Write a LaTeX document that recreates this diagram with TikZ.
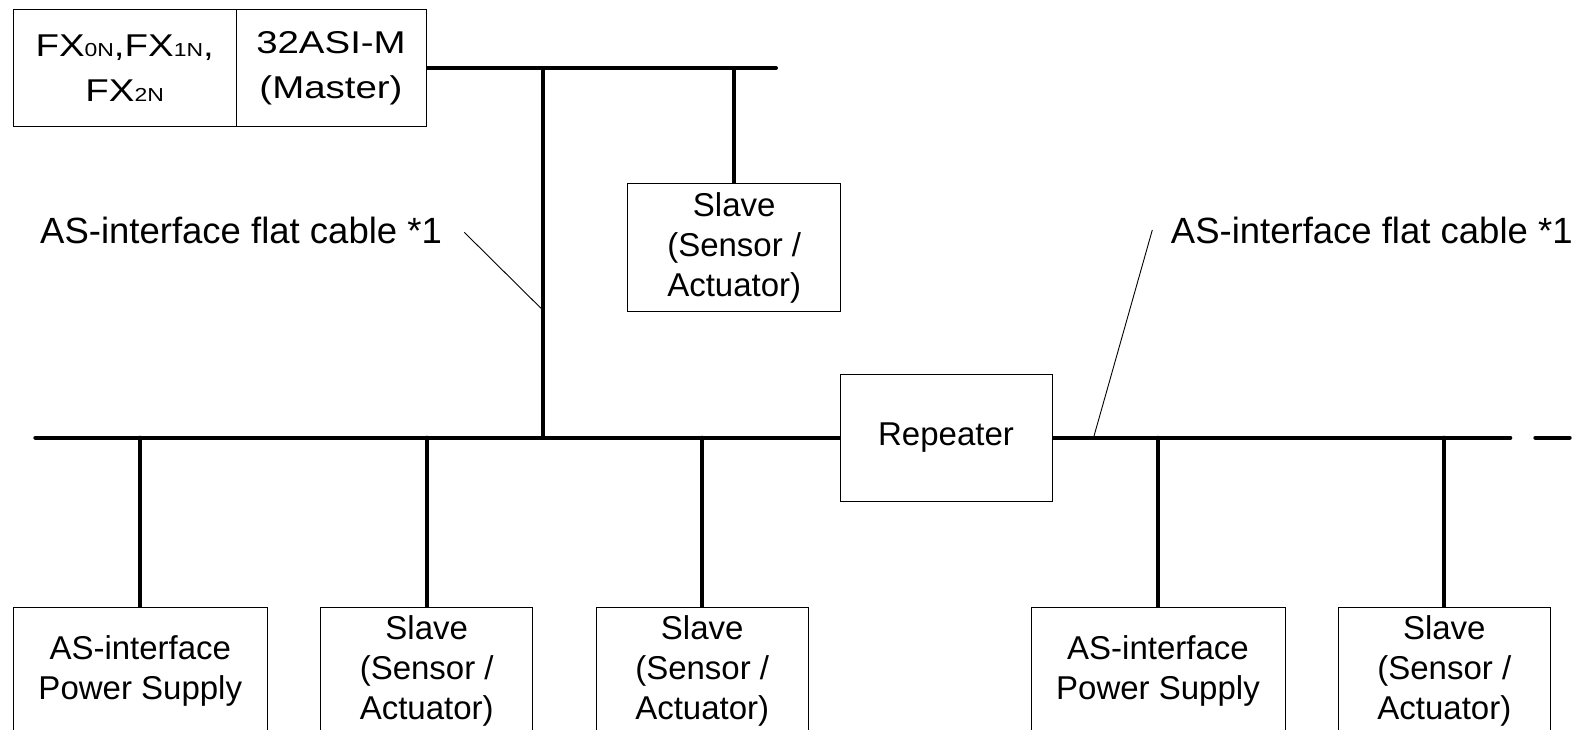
\documentclass[tikz,border=0pt]{standalone}
\usepackage{fontspec}
\setmainfont{Liberation Sans}
\newfontfamily\boxfont[FakeStretch=1.22]{Liberation Sans}
\usetikzlibrary{backgrounds}
\begin{document}
\begin{tikzpicture}[x=1pt,y=-1pt,
  box/.style={draw=black, line width=1pt, fill=white, inner sep=0pt, align=center,
    font=\fontsize{33}{40}\selectfont},
  topcell/.style={box, minimum height=117.4pt, font=\boxfont\fontsize{31.5}{45}\selectfont},
  slavebox/.style={box, minimum width=212pt, minimum height=127pt},
  psbox/.style={box, minimum width=254pt, minimum height=127pt},
  bus/.style={line width=4pt, line cap=round},
  lead/.style={line width=0.9pt},
  lbl/.style={inner sep=0pt, anchor=base west, font=\fontsize{36.5}{44}\selectfont}]
\clip (0,0) rectangle (1589,730);

% top controller box
\node[topcell, minimum width=222.7pt] (fx) at (124.65,68)
  {FX{\fontsize{18.8}{45}\selectfont 0N},FX{\fontsize{18.8}{45}\selectfont 1N},\\FX{\fontsize{18.8}{45}\selectfont 2N}};
\node[topcell, minimum width=190pt] (master) at (331,68) {32ASI-M\\(Master)};

% devices
\node[slavebox, minimum width=213pt] (sl0) at (734.2,247.5) {Slave\\(Sensor /\\Actuator)};
\node[slavebox, minimum height=126.7pt] (rep) at (946,437.7) {Repeater};
\node[psbox] (ps1) at (140.3,670.5) {AS-interface\\Power Supply};
\node[slavebox] (sl1) at (426.7,670.5) {Slave\\(Sensor /\\Actuator)};
\node[slavebox] (sl2) at (702.2,670.5) {Slave\\(Sensor /\\Actuator)};
\node[psbox] (ps2) at (1158,670.5) {AS-interface\\Power Supply};
\node[slavebox] (sl3) at (1444.3,670.5) {Slave\\(Sensor /\\Actuator)};

% labels
\node[lbl] (lab1) at (40,243.3) {AS-interface flat cable *1};
\node[lbl] (lab2) at (1170.7,243.3) {AS-interface flat cable *1};

% bus coordinates
\coordinate (topend) at (776,68);
\coordinate (vtop) at (542.7,68);
\coordinate (vbot) at (542.7,437.7);
\coordinate (busL) at (35.3,437.7);
\coordinate (busR) at (1510.3,437.7);
\coordinate (dashA) at (1535.3,437.7);
\coordinate (dashB) at (1569.7,437.7);
\coordinate (l1a) at (464.3,232.3);
\coordinate (l1b) at (541,308.3);
\coordinate (l2a) at (1152.3,230);
\coordinate (l2b) at (1094,436);

\begin{scope}[on background layer]
\fill[white] (0,0) rectangle (1589,730);
\draw[bus] (master.east) -- (topend);
\draw[bus] (vtop) -- (vbot);
\draw[bus] (sl0.north) -- (sl0.north |- master.east);
\draw[bus] (busL) -- (rep.west);
\draw[bus] (rep.east) -- (busR);
\draw[bus] (dashA) -- (dashB);
\draw[bus] (ps1.north) -- (ps1.north |- busL);
\draw[bus] (sl1.north) -- (sl1.north |- busL);
\draw[bus] (sl2.north) -- (sl2.north |- busL);
\draw[bus] (ps2.north) -- (ps2.north |- busL);
\draw[bus] (sl3.north) -- (sl3.north |- busL);
\end{scope}

\draw[lead] (l1a) -- (l1b);
\draw[lead] (l2a) -- (l2b);
\end{tikzpicture}
\end{document}
